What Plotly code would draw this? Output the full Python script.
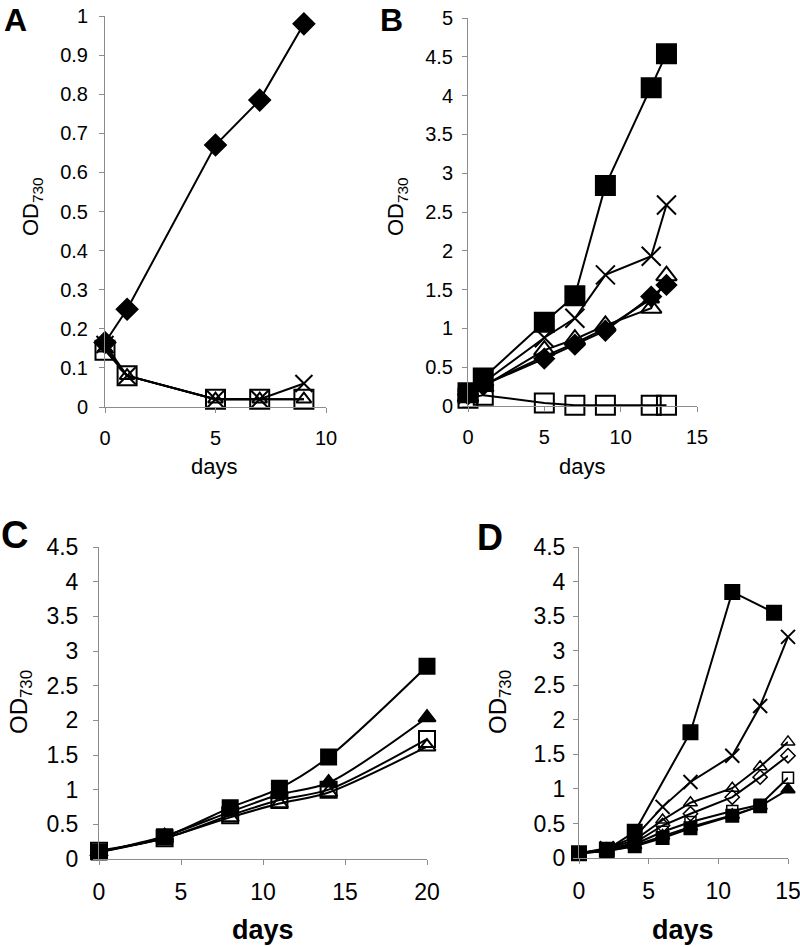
import plotly.graph_objects as go

W, H = 800, 947
FONT = "Liberation Sans, Arial, sans-serif"

# ---------------- data ----------------
# Panel A
a_days = [0, 1, 5, 7, 9]
a_diamond_f = [0.165, 0.25, 0.67, 0.785, 0.98]
a_x = [0.16, 0.08, 0.02, 0.02, 0.06]
a_tri_o = [0.15, 0.08, 0.02, 0.02, 0.02]
a_sq_o = [0.145, 0.08, 0.02, 0.02, 0.02]

# Panel B
b_days = [0, 1, 5, 7, 9, 12, 13]
b_sq_f = [0.17, 0.36, 1.08, 1.42, 2.84, 4.1, 4.54]
b_x = [0.15, 0.3, 0.88, 1.13, 1.69, 1.93, 2.59]
b_tri_o = [0.12, 0.25, 0.72, 0.86, 1.04, 1.26, 1.68]
b_tri_f = [0.13, 0.27, 0.64, 0.81, 1.0, 1.38, 1.58]
b_diamond_f = [0.15, 0.27, 0.61, 0.79, 0.97, 1.41, 1.56]
b_sq_o = [0.1, 0.14, 0.04, 0.01, 0.01, 0.01, 0.01]

# Panel C
c_days = [0, 4, 8, 11, 14, 20]
c_sq_f = [0.1, 0.32, 0.74, 1.02, 1.47, 2.78]
c_tri_f = [0.1, 0.33, 0.68, 0.93, 1.1, 2.04]
c_sq_o = [0.12, 0.3, 0.63, 0.85, 1.0, 1.73]
c_tri_o = [0.1, 0.3, 0.6, 0.8, 0.96, 1.62]

# Panel D
d_days = [0, 2, 4, 6, 8, 11, 13, 15]
d_sq_f_top_days = [0, 2, 4, 8, 11, 14]
d_sq_f_top = [0.07, 0.12, 0.38, 1.82, 3.85, 3.55]
d_x = [0.07, 0.14, 0.3, 0.74, 1.1, 1.48, 2.2, 3.2]
d_tri_o = [0.07, 0.13, 0.26, 0.55, 0.8, 1.01, 1.32, 1.68]
d_diamond_o = [0.07, 0.12, 0.22, 0.47, 0.64, 0.88, 1.17, 1.48]
d_sq_o = [0.07, 0.11, 0.2, 0.38, 0.52, 0.68, 0.77, 1.16]
d_tri_f = [0.07, 0.1, 0.18, 0.32, 0.45, 0.62, 0.75, 0.99]
d_sq_f_low_days = [0, 2, 4, 6, 8, 11, 13]
d_sq_f_low = [0.07, 0.1, 0.17, 0.29, 0.43, 0.61, 0.75]

y_label = "OD<sub>730</sub>"
x_label = "days"

# ---------------- layout helpers ----------------
def px_dom_x(x0, x1):
    return [x0 / W, x1 / W]

def px_dom_y(top, bottom):
    return [1 - bottom / H, 1 - top / H]

fig = go.Figure()

def add(xs, ys, sym, size, ax, shape="linear", lw=2.0, mlw=2.0):
    fig.add_trace(go.Scatter(
        x=xs, y=ys, mode="lines+markers",
        xaxis="x" + ax, yaxis="y" + ax,
        line=dict(color="black", width=lw, shape=shape, smoothing=0.8),
        marker=dict(symbol=sym, size=size, color="black",
                    line=dict(color="black", width=mlw)),
        cliponaxis=False, showlegend=False, hoverinfo="x+y"))

# Panel A (axis '')
add(a_days, a_sq_o, "square-open", 19, "")
add(a_days, a_tri_o, "triangle-up-open", 13, "")
add(a_days, a_x, "x-thin-open", 17, "")
add(a_days, a_diamond_f, "diamond", 16, "")

# Panel B
add(b_days, b_sq_o, "square-open", 19, "2")
add(b_days, b_diamond_f, "diamond", 15, "2")
add(b_days, b_tri_f, "triangle-up", 14, "2")
add(b_days, b_tri_o, "triangle-up-open", 18, "2")
add(b_days, b_x, "x-thin-open", 19, "2")
add(b_days, b_sq_f, "square", 19, "2")

# Panel C
add(c_days, c_tri_o, "triangle-up-open", 15, "3", shape="spline")
add(c_days, c_sq_o, "square-open", 16, "3", shape="spline")
add(c_days, c_tri_f, "triangle-up", 15, "3", shape="spline")
add(c_days, c_sq_f, "square", 15, "3", shape="spline")

# Panel D
add(d_sq_f_low_days, d_sq_f_low, "square", 12, "4")
add(d_days, d_tri_f, "triangle-up", 12, "4")
add(d_days, d_sq_o, "square-open", 11, "4", mlw=1.5)
add(d_days, d_diamond_o, "diamond-open", 11, "4", mlw=1.5)
add(d_days, d_tri_o, "triangle-up-open", 12, "4", mlw=1.5)
add(d_days, d_x, "x-thin-open", 14, "4")
add(d_sq_f_top_days, d_sq_f_top, "square", 14, "4")

axis_common = dict(showline=True, linecolor="#8c8c8c", linewidth=1,
                   ticks="outside", ticklen=5, tickcolor="#8c8c8c",
                   showgrid=False, zeroline=False, automargin=False,
                   ticklabeloverflow="allow")

panels = [
    # suffix, x px, y px, xrange, xdtick, yrange, ydtick, xstand, ystand, font
    ("", (105, 326), (16, 407), [0, 10], 5, [0, 1], 0.1, 8, 7, 20),
    ("2", (468, 697), (18, 406), [0, 15], 5, [0, 5], 0.5, 8, 5, 20),
    ("3", (99, 427), (547, 859), [0, 20], 5, [0, 4.5], 0.5, 7, 10, 23),
    ("4", (579, 788), (547, 858), [0, 15], 5, [0, 4.5], 0.5, 7, 3, 23),
]
lay = {}
for suf, xp, yp, xr, xd, yr, yd, xs, ys, fs in panels:
    tf = dict(family=FONT, size=fs, color="black")
    lay["xaxis" + suf] = dict(axis_common, domain=px_dom_x(*xp), range=xr,
                              dtick=xd, tick0=0, anchor="y" + suf,
                              ticklabelstandoff=xs, tickfont=tf)
    lay["yaxis" + suf] = dict(axis_common, domain=px_dom_y(*yp), range=yr,
                              dtick=yd, tick0=0, anchor="x" + suf,
                              ticklabelstandoff=ys, tickfont=tf)

annotations = []
def ann(text, x, y, size, bold=False, angle=0):
    annotations.append(dict(
        text=("<b>%s</b>" % text) if bold else text,
        x=x / W, y=1 - y / H, xref="paper", yref="paper",
        showarrow=False, textangle=angle, xanchor="center", yanchor="middle",
        font=dict(family=FONT, size=size, color="black")))

# panel letters
ann("A", 15, 20, 32, bold=True)
ann("B", 391, 20, 32, bold=True)
ann("C", 14, 535, 38, bold=True)
ann("D", 490, 537, 36, bold=True)
# y axis titles
ann(y_label, 32, 207, 22, angle=-90)
ann(y_label, 397, 207, 22, angle=-90)
ann(y_label, 20, 702, 24, angle=-90)
ann(y_label, 499, 702, 24, angle=-90)
# x axis titles
ann(x_label, 214, 466, 22)
ann(x_label, 582, 466, 22)
ann(x_label, 263, 930, 27, bold=True)
ann(x_label, 683, 930, 27, bold=True)

fig.update_layout(width=W, height=H, margin=dict(l=0, r=0, t=0, b=0),
                  paper_bgcolor="white", plot_bgcolor="white",
                  annotations=annotations, **lay)

fig.write_html("out.html", config={"displayModeBar": False},
               post_script="document.body.style.margin='0';"
                           "document.body.style.overflow='hidden';")
